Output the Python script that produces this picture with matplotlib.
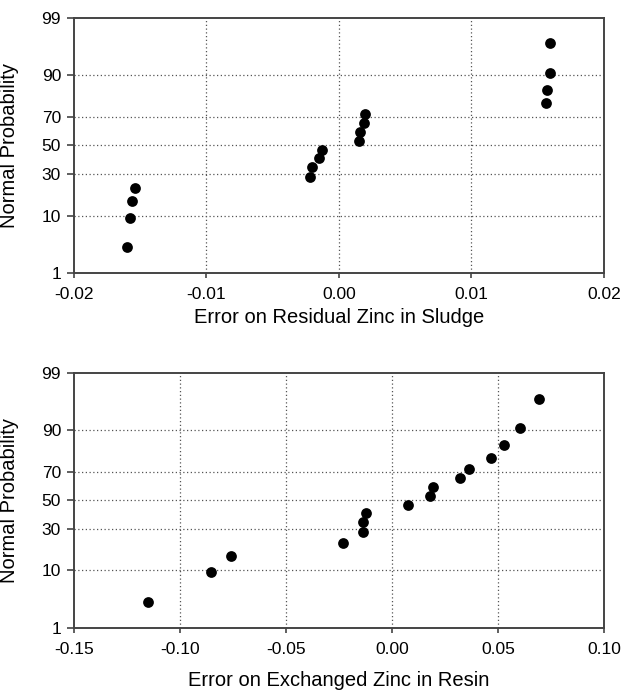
import numpy as np
import matplotlib
matplotlib.use("Agg")
import matplotlib.pyplot as plt
from statistics import NormalDist

plt.rcParams['font.family'] = ['Liberation Sans', 'DejaVu Sans']

# plotting positions (%) shared by both panels
prob = [3.125, 9.375, 15.625, 21.875, 28.125, 34.375, 40.625, 46.875,
        53.125, 59.375, 65.625, 71.875, 78.125, 84.375, 90.625, 96.875]

# residual zinc in sludge
err_sludge = [-0.0160, -0.0158, -0.0156, -0.0154, -0.0022, -0.0020, -0.0015, -0.0013,
              0.0015, 0.0016, 0.0019, 0.0020, 0.0156, 0.0157, 0.0159, 0.0159]

# exchanged zinc in resin
err_resin = [-0.1153, -0.0854, -0.0758, -0.0233, -0.0139, -0.0137, -0.0124, 0.0074,
             0.0180, 0.0193, 0.0321, 0.0362, 0.0466, 0.0526, 0.0603, 0.0695]

yticks = [1, 10, 30, 50, 70, 90, 99]
xticks_top = [-0.02, -0.01, 0.00, 0.01, 0.02]
xticks_bot = [-0.15, -0.10, -0.05, 0.00, 0.05, 0.10]

nd = NormalDist()
_fwd = np.vectorize(lambda p: nd.inv_cdf(min(max(p / 100.0, 1e-9), 1 - 1e-9)), otypes=[float])
_inv = np.vectorize(lambda z: nd.cdf(z) * 100.0, otypes=[float])


def fwd(p):
    return _fwd(np.asarray(p, dtype=float))


def inv(z):
    return _inv(np.asarray(z, dtype=float))


def probplot(ax, x, xticks, xlabel, xlab_y):
    ax.set_yscale('function', functions=(fwd, inv))
    ax.scatter(x, prob, s=60, color='black', zorder=3, linewidths=0)
    ax.set_xlim(xticks[0], xticks[-1])
    ax.set_ylim(1, 99)
    ax.set_yticks(yticks)
    ax.set_yticklabels([str(t) for t in yticks])
    ax.yaxis.set_minor_locator(matplotlib.ticker.NullLocator())
    ax.set_xticks(xticks)
    ax.set_xticklabels(['%.2f' % t for t in xticks])
    for t in xticks[1:-1]:
        ax.axvline(t, color='#555555', linestyle=(0, (1, 2)), linewidth=0.9, zorder=1)
    for t in yticks[1:-1]:
        ax.axhline(t, color='#555555', linestyle=(0, (1, 2)), linewidth=0.9, zorder=1)
    for s in ax.spines.values():
        s.set_color('#444444')
        s.set_linewidth(1.4)
    ax.tick_params(axis='x', direction='out', length=3.6, width=1.2,
                   labelsize=12.5, color='#444444', pad=6.5)
    ax.tick_params(axis='y', direction='out', length=4.8, width=1.2,
                   labelsize=12.5, color='#444444', pad=4.5)
    ax.set_xlabel(xlabel, fontsize=14.5)
    ax.xaxis.set_label_coords(0.5, xlab_y)
    ax.set_ylabel('Normal Probability', fontsize=14.5)
    ax.yaxis.set_label_coords(-0.104, 0.5)


fig = plt.figure(figsize=(6.27, 6.92), dpi=100)
ax1 = fig.add_axes([0.118, 0.6059, 0.8453, 0.368])
ax2 = fig.add_axes([0.118, 0.0932, 0.8453, 0.3673])

probplot(ax1, err_sludge, xticks_top, 'Error on Residual Zinc in Sludge', -0.1386)
probplot(ax2, err_resin, xticks_bot, 'Error on Exchanged Zinc in Resin', -0.171)

fig.savefig('out.png', dpi=100)
